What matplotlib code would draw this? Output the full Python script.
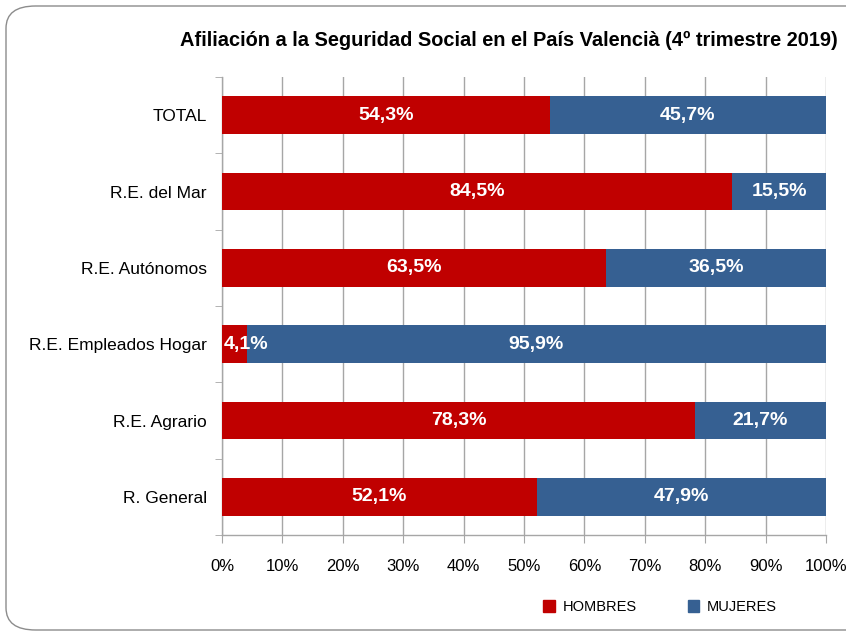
import matplotlib.pyplot as plt
from matplotlib.patches import FancyBboxPatch, Patch
from matplotlib.ticker import FixedLocator, PercentFormatter

plt.rcParams['font.family'] = ['Liberation Sans', 'DejaVu Sans']

categories = ['R. General', 'R.E. Agrario', 'R.E. Empleados Hogar',
              'R.E. Autónomos', 'R.E. del Mar', 'TOTAL']
hombres = [52.1, 78.3, 4.1, 63.5, 84.5, 54.3]
mujeres = [47.9, 21.7, 95.9, 36.5, 15.5, 45.7]

RED = '#c00000'
BLUE = '#366092'
GRID = '#a6a6a6'

fig = plt.figure(figsize=(8.46, 6.35), dpi=100)
ax = fig.add_axes([222/846, 1 - 535/635, (826 - 222)/846, (535 - 77)/635])

# rounded frame around the chart (right edge runs past the picture)
fig.patches.append(FancyBboxPatch((6/846, 5/635), 900/846, 624/635,
                                  boxstyle='round,pad=0,rounding_size=0.035',
                                  transform=fig.transFigure, fill=False,
                                  edgecolor='#8c8c8c', linewidth=1.0))

y = range(len(categories))
ax.barh(y, hombres, height=0.49, color=RED, zorder=3)
ax.barh(y, mujeres, left=hombres, height=0.49, color=BLUE, zorder=3)

def fmt(v):
    return f'{v:.1f}%'.replace('.', ',')

for i, (h, m) in enumerate(zip(hombres, mujeres)):
    if h < 8:
        ax.text(0.3, i, fmt(h), ha='left', va='center', color='white',
                fontsize=14, fontweight='bold', zorder=4)
    else:
        ax.text(h / 2, i, fmt(h), ha='center', va='center', color='white',
                fontsize=14, fontweight='bold', zorder=4)
    ax.text(h + m / 2, i, fmt(m), ha='center', va='center', color='white',
            fontsize=14, fontweight='bold', zorder=4)

ax.set_xlim(0, 100)
ax.set_ylim(-0.5, len(categories) - 0.5)
ax.set_xticks(range(0, 101, 10))
ax.xaxis.set_major_formatter(PercentFormatter(decimals=0))
ax.set_yticks(list(y))
ax.set_yticklabels(categories)
ax.yaxis.set_minor_locator(FixedLocator([i - 0.5 for i in range(len(categories) + 1)]))
ax.tick_params(axis='y', which='major', length=0, pad=11, labelsize=12.5)
ax.tick_params(axis='y', which='minor', length=5, color=GRID, direction='out')
ax.tick_params(axis='x', length=6, color=GRID, labelsize=12, pad=11)

ax.grid(axis='x', color=GRID, linewidth=1.0, zorder=0)
for s in ['top', 'right']:
    ax.spines[s].set_visible(False)
for s in ['left', 'bottom']:
    ax.spines[s].set_color(GRID)
    ax.spines[s].set_linewidth(1.0)

fig.text(838/846, 1 - 40/635,
         'Afiliación a la Seguridad Social en el País Valencià (4º trimestre 2019)',
         ha='right', va='center', fontsize=14.4, fontweight='bold')

handles = [Patch(color=RED, label='HOMBRES'), Patch(color=BLUE, label='MUJERES')]
fig.legend(handles=handles, loc='center', bbox_to_anchor=(660/846, 1 - 607/635),
           ncol=2, frameon=False, fontsize=10.5, handlelength=0.8, handleheight=0.8,
           columnspacing=3.5, handletextpad=0.5)

fig.savefig('out.png', dpi=100)
